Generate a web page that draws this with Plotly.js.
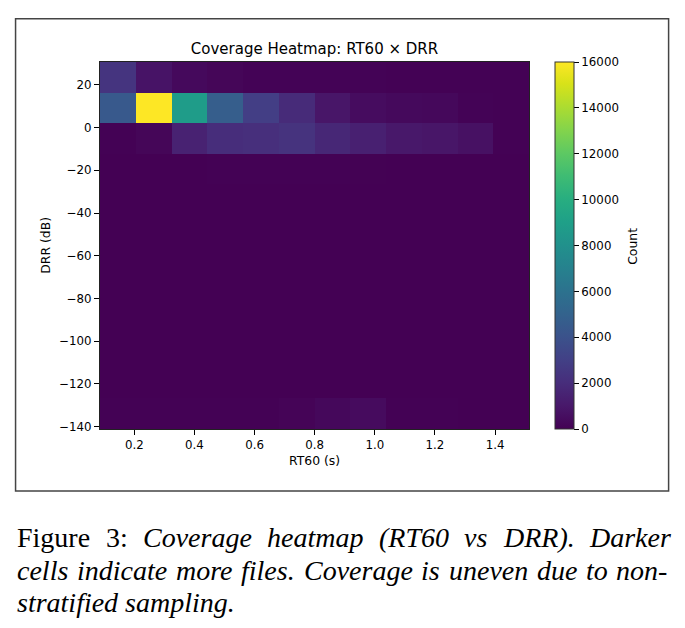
<!DOCTYPE html>
<html>
<head>
<meta charset="utf-8">
<script src="https://cdn.plot.ly/plotly-3.0.1.min.js"></script>
<style>
  html, body { margin: 0; padding: 0; background: #ffffff; }
  #chart { width: 685px; height: 628px; }
</style>
</head>
<body>
<div id="chart"></div>
<script>
// Bin edges of the 2-D histogram
const rt60Edges = [0.086, 0.205, 0.324, 0.443, 0.562, 0.681, 0.799, 0.918, 1.037, 1.156, 1.275, 1.394, 1.513];
const drrEdges = [-141.1, -126.78, -112.46, -98.14, -83.82, -69.5, -55.18, -40.86, -26.54, -12.22, 2.1, 16.42, 30.7];

// File counts per cell, bottom DRR row first, RT60 bins left to right
const countsRow01 = [25, 30, 25, 30, 40, 150, 300, 450, 40, 25, 20, 15];
const countsRow02 = [10, 8, 6, 6, 8, 10, 12, 10, 8, 6, 5, 4];
const countsRow03 = [8, 7, 6, 5, 6, 8, 9, 8, 6, 5, 4, 3];
const countsRow04 = [7, 6, 5, 6, 7, 8, 7, 6, 5, 4, 3, 3];
const countsRow05 = [8, 7, 6, 7, 8, 9, 8, 7, 6, 5, 4, 3];
const countsRow06 = [10, 8, 7, 8, 10, 11, 10, 8, 7, 6, 5, 4];
const countsRow07 = [11, 10, 8, 10, 12, 14, 12, 10, 8, 7, 6, 5];
const countsRow08 = [14, 12, 11, 14, 16, 18, 16, 14, 11, 9, 7, 6];
const countsRow09 = [15, 18, 20, 24, 26, 28, 25, 22, 18, 15, 12, 10];
const countsRow10 = [40, 200, 1500, 2000, 2100, 2300, 1700, 1400, 1000, 900, 700, 60];
const countsRow11 = [4400, 16000, 8800, 4700, 2900, 1900, 900, 500, 350, 300, 100, 60];
const countsRow12 = [2400, 800, 350, 200, 100, 90, 80, 70, 60, 50, 40, 30];

const counts = [countsRow01, countsRow02, countsRow03, countsRow04, countsRow05, countsRow06,
                countsRow07, countsRow08, countsRow09, countsRow10, countsRow11, countsRow12];

const rt60Ticks = [0.2, 0.4, 0.6, 0.8, 1.0, 1.2, 1.4];
const rt60TickText = ['0.2', '0.4', '0.6', '0.8', '1.0', '1.2', '1.4'];
const drrTicks = [-140, -120, -100, -80, -60, -40, -20, 0, 20];
const drrTickText = ['\u2212140', '\u2212120', '\u2212100', '\u221280', '\u221260', '\u221240', '\u221220', '0', '20'];
const countTicks = [0, 2000, 4000, 6000, 8000, 10000, 12000, 14000, 16000];
const countTickText = ['0', '2000', '4000', '6000', '8000', '10000', '12000', '14000', '16000'];

const captionLine1 = ['Figure', '3:', 'Coverage', 'heatmap', '(RT60', 'vs', 'DRR).', 'Darker'];
const captionLine2 = ['cells', 'indicate', 'more', 'files.', 'Coverage', 'is', 'uneven', 'due', 'to', 'non-'];
const captionLine3 = 'stratified sampling.';

// Page geometry (pixels)
const W = 685, H = 628;
const ML = 100, MR = 685 - 529.3, MT = 61.7, MB = 628 - 429;
const PW = W - ML - MR, PH = H - MT - MB;
const fx = px => (px - ML) / PW;
const fy = py => (H - MB - py) / PH;

const tickFont = { family: 'DejaVu Sans', size: 11.8, color: '#000' };
const labelFont = { family: 'DejaVu Sans', size: 12.4, color: '#000' };
const serif = 'Liberation Serif';
const capSize = 28;

// Justified caption lines, one annotation per word
const canvas = document.createElement('canvas');
const ctx = canvas.getContext('2d');
function wordWidth(word, italic) {
  ctx.font = (italic ? 'italic ' : '') + capSize + 'px "' + serif + '"';
  return ctx.measureText(word).width;
}
function justify(words, italicFrom, left, right, yc) {
  const widths = words.map((w, i) => wordWidth(w, i >= italicFrom));
  const total = widths.reduce((a, b) => a + b, 0);
  const gap = (right - left - total) / (words.length - 1);
  let x = left;
  return words.map((w, i) => {
    const a = {
      text: w, xref: 'paper', yref: 'paper', x: fx(x), y: fy(yc),
      xanchor: 'left', yanchor: 'middle', showarrow: false, borderpad: 0,
      font: { family: serif, size: capSize, color: '#000', style: i >= italicFrom ? 'italic' : 'normal' }
    };
    x += widths[i] + gap;
    return a;
  });
}

const annotations = [
  { text: 'RT60 (s)', xref: 'paper', yref: 'paper', x: 0.5, y: fy(461), xanchor: 'center', yanchor: 'middle',
    showarrow: false, font: labelFont },
  { text: 'DRR (dB)', xref: 'paper', yref: 'paper', x: fx(45.5), y: fy(245), xanchor: 'center', yanchor: 'middle',
    textangle: -90, showarrow: false, font: labelFont },
  { text: 'Count', xref: 'paper', yref: 'paper', x: fx(633), y: fy(246), xanchor: 'center', yanchor: 'middle',
    textangle: -90, showarrow: false, font: labelFont },
  ...justify(captionLine1, 2, 16, 669, 538),
  ...justify(captionLine2, 0, 16, 667, 571),
  { text: captionLine3, xref: 'paper', yref: 'paper', x: fx(16), y: fy(603), xanchor: 'left', yanchor: 'middle',
    showarrow: false, borderpad: 0, font: { family: serif, size: capSize, color: '#000', style: 'italic' } }
];

const trace = {
  type: 'heatmap',
  x: rt60Edges,
  y: drrEdges,
  z: counts,
  zmin: 0,
  zmax: 16000,
  colorscale: 'Viridis',
  zsmooth: false,
  hoverinfo: 'skip',
  colorbar: {
    x: fx(555.7), xanchor: 'left', xpad: 0,
    y: 0.5, yanchor: 'middle', ypad: 0,
    len: 1, lenmode: 'fraction',
    thickness: 18.6, thicknessmode: 'pixels',
    outlinewidth: 1, outlinecolor: '#333',
    ticks: 'outside', ticklen: 5, tickwidth: 1, tickcolor: '#000',
    tickvals: countTicks, ticktext: countTickText, tickfont: tickFont
  }
};

const layout = {
  width: W, height: H,
  margin: { l: ML, r: MR, t: MT, b: MB, pad: 0 },
  paper_bgcolor: '#ffffff',
  plot_bgcolor: '#ffffff',
  showlegend: false,
  title: {
    text: 'Coverage Heatmap: RT60 \u00d7 DRR',
    font: { family: 'DejaVu Sans', size: 15, color: '#000' },
    xref: 'paper', x: 0.5, xanchor: 'center',
    yref: 'container', y: 1 - 49 / H, yanchor: 'middle'
  },
  xaxis: {
    range: [rt60Edges[0], rt60Edges[rt60Edges.length - 1]],
    tickvals: rt60Ticks, ticktext: rt60TickText,
    ticks: 'outside', ticklen: 5, tickwidth: 1, tickcolor: '#000',
    tickfont: tickFont, showgrid: false, zeroline: false,
    showline: true, linecolor: '#222', linewidth: 1, mirror: true
  },
  yaxis: {
    range: [drrEdges[0], drrEdges[drrEdges.length - 1]],
    tickvals: drrTicks, ticktext: drrTickText,
    ticks: 'outside', ticklen: 5, tickwidth: 1, tickcolor: '#000',
    tickfont: tickFont, showgrid: false, zeroline: false,
    showline: true, linecolor: '#222', linewidth: 1, mirror: true
  },
  shapes: [{
    type: 'rect', xref: 'paper', yref: 'paper',
    x0: fx(15.5), x1: fx(669), y0: fy(491), y1: fy(18.5),
    line: { color: '#444', width: 1.5 }, fillcolor: 'rgba(0,0,0,0)', layer: 'above'
  }],
  annotations: annotations
};

Plotly.newPlot('chart', [trace], layout, { displayModeBar: false, staticPlot: true });
</script>
</body>
</html>
